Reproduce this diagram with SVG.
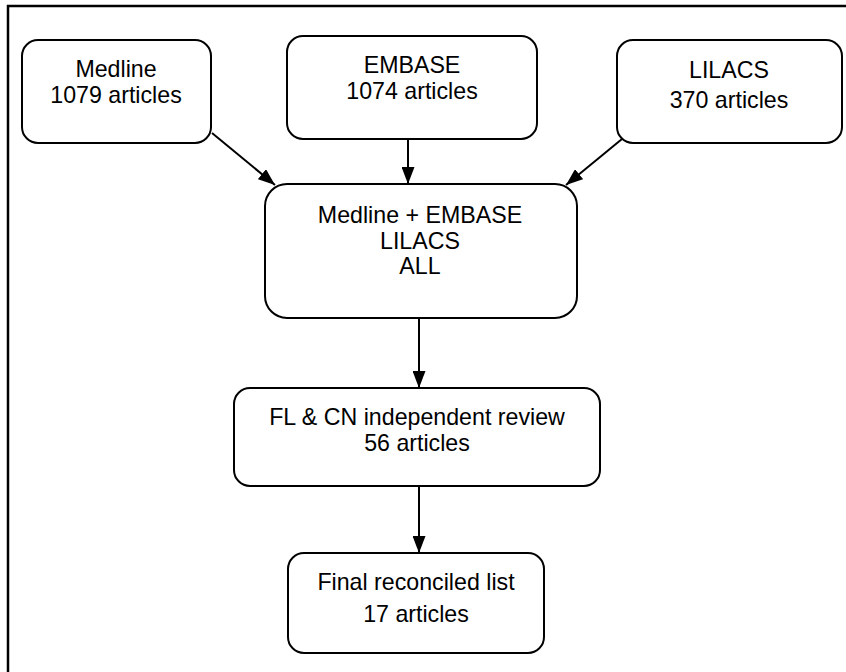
<svg xmlns="http://www.w3.org/2000/svg" width="846" height="672" viewBox="0 0 846 672">
<style>
.box{fill:#fff;stroke:#000;stroke-width:2}
.t{font-family:"Liberation Sans",Arial,sans-serif;font-size:23.2px;fill:#000;text-anchor:middle}
.c{stroke:#000;stroke-width:2;fill:none;marker-end:url(#ah)}
</style>
<defs>
<marker id="ah" viewBox="0 0 17 13" refX="17" refY="6.5" markerWidth="17" markerHeight="13" markerUnits="userSpaceOnUse" orient="auto">
<path d="M0,0 L17,6.5 L0,13 Z" fill="#000"/>
</marker>
</defs>
<rect width="846" height="672" fill="#fff"/>
<path d="M8,672 V6 H846" fill="none" stroke="#000" stroke-width="2.5"/>
<g id="medline"><rect class="box" x="22" y="40" width="189" height="103" rx="16"/><text class="t" x="116" y="77">Medline</text><text class="t" x="116" y="103">1079 articles</text></g>
<g id="embase"><rect class="box" x="287" y="36" width="250" height="103" rx="16"/><text class="t" x="412" y="73">EMBASE</text><text class="t" x="412" y="99">1074 articles</text></g>
<g id="lilacs"><rect class="box" x="617" y="40" width="225" height="103" rx="16"/><text class="t" x="729" y="78">LILACS</text><text class="t" x="729" y="108">370 articles</text></g>
<g id="combined"><rect class="box" x="265" y="184" width="312" height="134" rx="22"/><text class="t" x="420" y="223">Medline + EMBASE</text><text class="t" x="420" y="249">LILACS</text><text class="t" x="420" y="274">ALL</text></g>
<g id="review"><rect class="box" x="234" y="388" width="366" height="98" rx="16"/><text class="t" x="417" y="425">FL &amp; CN independent review</text><text class="t" x="417" y="451">56 articles</text></g>
<g id="final"><rect class="box" x="288" y="553" width="256" height="100" rx="16"/><text class="t" x="416" y="590">Final reconciled list</text><text class="t" x="416" y="622">17 articles</text></g>
<g id="connectors">
<line class="c" x1="212" y1="133" x2="275" y2="185"/>
<line class="c" x1="408" y1="139" x2="408" y2="184"/>
<line class="c" x1="622" y1="139" x2="566" y2="185"/>
<line class="c" x1="419" y1="318" x2="419" y2="388"/>
<line class="c" x1="419" y1="486" x2="419" y2="553"/>
</g>
</svg>
